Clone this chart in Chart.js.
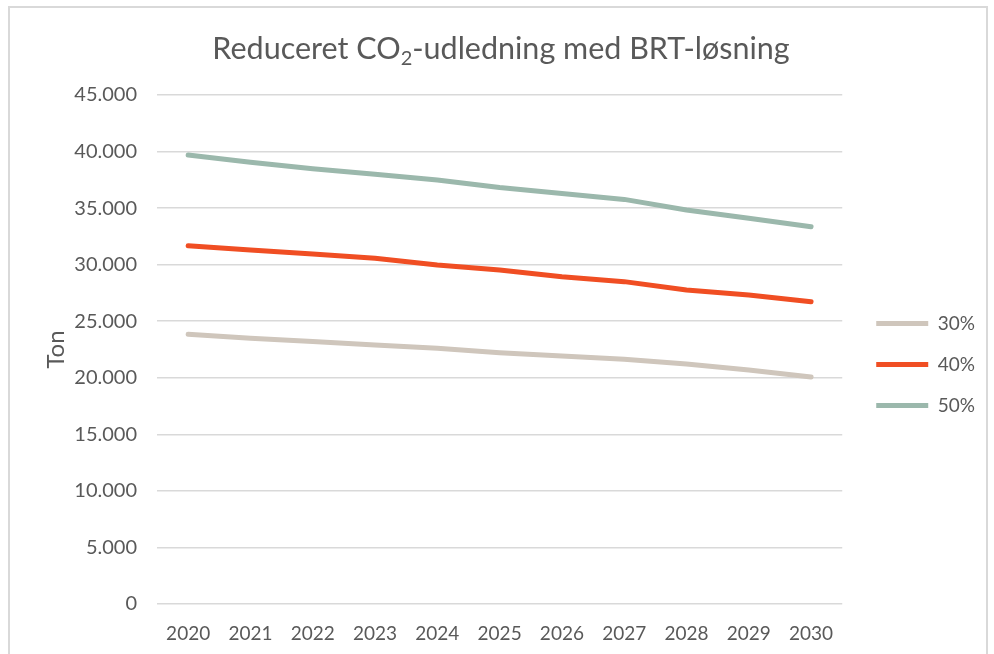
<!DOCTYPE html>
<html>
<head>
<meta charset="utf-8">
<script src="https://cdn.jsdelivr.net/npm/chart.js@4/dist/chart.umd.min.js"></script>
<style>
  html, body { margin: 0; padding: 0; background: #fff; }
  #wrap { position: relative; width: 994px; height: 654px; overflow: hidden; }
  #frame { position: absolute; left: 8px; top: 6px; width: 980px; height: 660px; border: 2px solid #d9d9d9; box-sizing: border-box; }
  #title { position: absolute; left: 4px; width: 994px; top: 29px; text-align: center;
           font-family: Lato, "Open Sans", sans-serif; font-size: 30.5px; line-height: 36px; color: #595959; margin: 0; font-weight: normal; }
  #title sub { font-size: 20px; vertical-align: -6px; line-height: 0; }
  canvas { position: absolute; left: 0; top: 0; }
</style>
</head>
<body>
<div id="wrap">
  <div id="frame"></div>
  <canvas id="c" width="994" height="654"></canvas>
  <h1 id="title">Reduceret CO<sub>2</sub>-udledning med BRT-løsning</h1>
</div>
<script>
// årstal og reduceret CO2 (ton) pr. scenarie
const years = ["2020","2021","2022","2023","2024","2025","2026","2027","2028","2029","2030"];
const red30 = [23850, 23490, 23200, 22900, 22610, 22220, 21930, 21640, 21220, 20690, 20070];
const red40 = [31680, 31300, 30950, 30560, 29970, 29530, 28940, 28500, 27760, 27320, 26730];
const red50 = [39700, 39050, 38480, 37990, 37490, 36830, 36300, 35770, 34830, 34100, 33360];
const seriesNames = ["30%", "40%", "50%"];

const TXT = "#595959";
const FONT = "Lato, 'Open Sans', sans-serif";

// dansk tusindtalsseparator
const fmt = v => String(v).replace(/\B(?=(\d{3})+(?!\d))/g, ".");

function line(label, data, color) {
  return {
    label, data,
    borderColor: color, backgroundColor: color,
    borderWidth: 5, borderCapStyle: "round", borderJoinStyle: "round",
    pointRadius: 0, pointHoverRadius: 0, tension: 0, fill: false,
  };
}

// flytter legenden lidt til højre og op
const legendShift = {
  id: "legendShift",
  afterLayout(chart) {
    const lg = chart.legend;
    lg.left += 12; lg.right += 12;
    lg.top -= 10; lg.bottom -= 10;
  }
};

new Chart(document.getElementById("c"), {
  type: "line",
  data: {
    labels: years,
    datasets: [
      line(seriesNames[0], red30, "#cfc6bc"),
      line(seriesNames[1], red40, "#f04e23"),
      line(seriesNames[2], red50, "#9bb8ac"),
    ],
  },
  options: {
    responsive: false,
    animation: false,
    layout: { padding: { top: 95, left: 42, right: 21, bottom: 0 } },
    plugins: {
      tooltip: { enabled: false },
      legend: {
        position: "right",
        labels: {
          usePointStyle: true, pointStyle: "line", pointStyleWidth: 52,
          padding: 22, color: TXT, font: { family: FONT, size: 19 },
        },
      },
    },
    scales: {
      x: {
        offset: true,
        grid: { display: false, drawTicks: false },
        border: { display: false },
        ticks: { color: TXT, font: { family: FONT, size: 19 }, padding: 18, maxRotation: 0 },
        afterFit: s => { s.height = 50; },
      },
      y: {
        min: 0, max: 45000,
        grid: { color: "#d9d9d9", lineWidth: 1.5, drawTicks: false },
        border: { display: false },
        ticks: { stepSize: 5000, color: TXT, font: { family: FONT, size: 20 }, padding: 20, callback: v => fmt(v) },
        title: { display: true, text: "Ton", color: TXT, font: { family: FONT, size: 24 }, padding: 0 },
        afterFit: s => { s.width = 115; },
      },
    },
  },
  plugins: [legendShift],
});
</script>
</body>
</html>
